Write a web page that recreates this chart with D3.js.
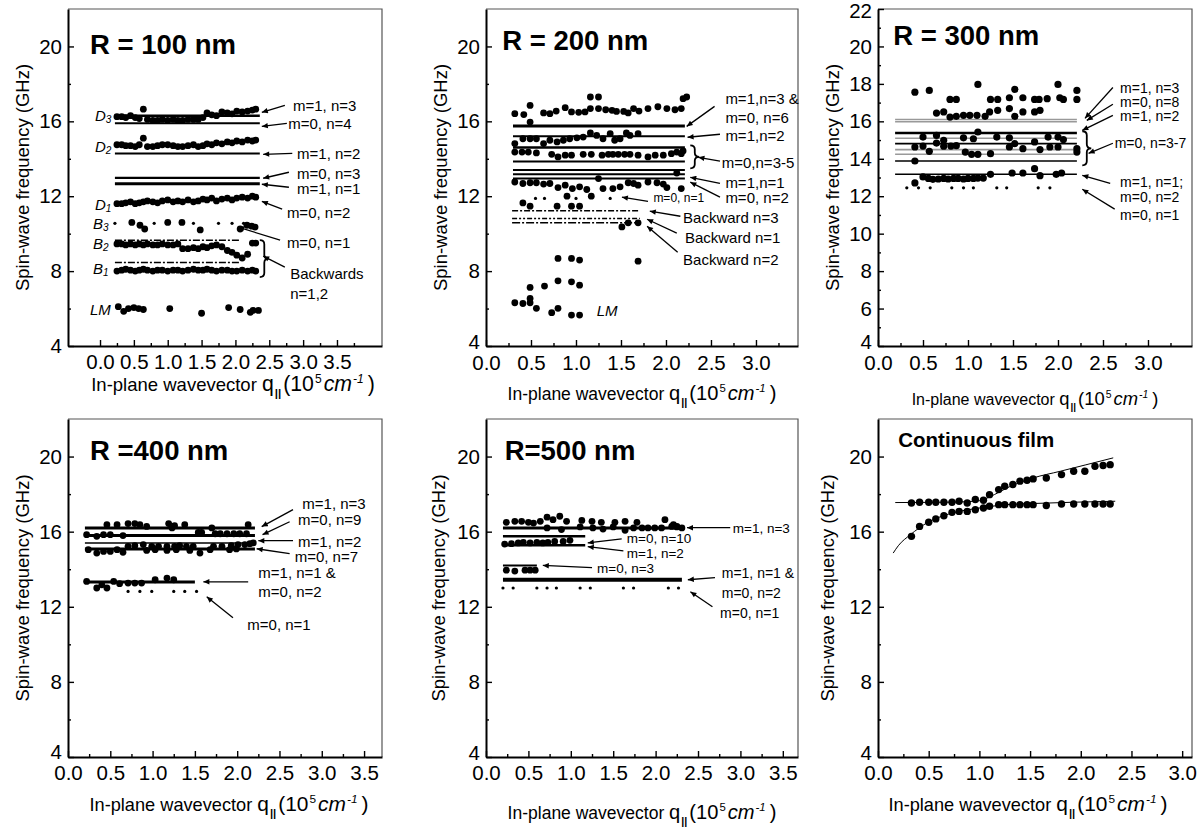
<!DOCTYPE html>
<html><head><meta charset="utf-8">
<script src="https://cdn.jsdelivr.net/npm/d3@7"></script>
<style>body{margin:0;background:#fff}</style>
</head><body><script>
// ---------------- DATA ----------------
// R = 100 nm
const r100X  = [0.25,0.32,0.38,0.45,0.52,0.58,0.64,0.70,0.78,0.85,0.92,1.00,1.08,1.15,1.22,1.30,1.38,1.45,1.52,1.58,1.65,1.72,1.80,1.88,1.95,2.02,2.10,2.18,2.25,2.30];
const r100D3 = [16.25,16.25,16.2,16.3,16.2,16.15,16.65,16.1,16.05,16.05,16.1,16.05,16.1,16.05,16.05,16.1,16.1,16.1,16.2,16.45,16.35,16.3,16.5,16.45,16.4,16.55,16.5,16.55,16.6,16.65];
const r100D2 = [14.75,14.75,14.7,14.7,14.65,14.75,15.1,14.65,14.65,14.7,14.75,14.75,14.7,14.65,14.65,14.7,14.75,14.65,14.7,14.8,14.75,14.85,14.8,14.9,14.85,14.95,14.9,15.0,14.95,15.0];
const r100D1 = [11.6,11.6,11.65,11.7,11.6,11.65,11.7,11.75,11.7,11.65,11.75,11.8,11.7,11.75,11.7,11.8,11.7,11.75,11.85,11.8,11.9,11.75,11.85,11.9,11.8,11.9,11.95,11.9,12.0,11.95];
const r100B2 = [9.45,9.45,9.4,9.45,9.4,9.45,9.4,9.45,9.4,9.4,9.45,9.4,9.4,9.45,9.2,9.2,9.25,9.2,9.3,9.25,9.35,9.4,9.3,9.1,9.0,8.85,8.7,8.9,9.5,9.5];
const r100B1 = [8.0,8.05,8.1,8.05,8.0,8.05,8.1,8.05,8.0,8.05,8.05,8.0,8.05,8.05,8.0,8.05,8.1,8.05,8.05,8.1,8.05,8.0,8.05,8.05,8.0,8.0,8.05,8.0,8.05,8.0];
const r100B3X = [0.47,0.59,0.66,1.0,1.21,1.48,2.07,2.17,2.24,2.29];
const r100B3Y = [10.6,10.45,10.25,10.6,10.6,10.2,10.25,10.45,10.4,10.35];
const r100B3SmallX = [0.22,0.8,1.38,1.75,1.95,2.12];
const r100B3SmallY = [10.55,10.55,10.55,10.55,10.55,10.55];
const r100LMX = [0.27,0.35,0.42,0.5,0.57,0.64,1.03,1.5,1.9,2.07,2.22,2.26,2.34];
const r100LMY = [6.1,5.85,6.0,6.05,6.0,5.95,6.0,5.75,6.05,5.95,5.8,5.9,5.9];
const r100Modes = [16.3,15.9,14.28,12.98,12.66];
const r100ModeWidth = [2.5,2,2,2.2,3];
const r100Backward = [9.65,8.46];
const r100ModeRange = [0.22,2.36];
const r100BackRange = [0.22,2.07];

// R = 200 nm
const r200AX = [0.32,0.42,0.49,0.49,0.64,0.71,0.78,0.88,0.95,1.03,1.1,1.16,1.16,1.25,1.25,1.33,1.4,1.45,1.53,1.58,1.64,1.7,1.8,1.91,2.01,2.1,2.17,2.19,2.23];
const r200AY = [16.41,16.36,16.85,15.96,16.45,16.41,16.55,16.73,16.5,16.48,16.5,17.3,16.68,17.3,16.68,16.62,16.59,16.53,16.53,16.45,16.68,16.55,16.68,16.78,16.68,16.62,16.68,17.21,17.3];
const r200BX = [0.32,0.41,0.49,0.56,0.64,0.71,0.79,0.86,0.93,1.01,1.08,1.16,1.23,1.3,1.38,1.43,1.49,1.56,1.6,1.69];
const r200BY = [14.81,15.07,15.07,15.07,14.81,14.99,14.9,14.99,15.07,15.12,15.16,15.38,15.25,15.07,15.34,14.99,15.07,15.38,15.25,15.34];
const r200CX = [0.32,0.4,0.47,0.56,0.73,0.8,0.88,0.95,1.08,1.17,1.29,1.36,1.41,1.47,1.54,1.6,1.69,1.8,1.88,1.97,2.06,2.12,2.17,2.19];
const r200CY = [14.36,14.36,14.36,14.31,14.24,14.1,14.19,14.19,14.24,14.24,14.19,14.24,14.24,14.24,14.24,14.24,14.19,14.1,14.19,14.19,14.27,14.36,14.27,14.42];
const r200DX = [0.32,0.41,0.49,0.56,0.64,0.71,0.8,0.88,0.96,1.04,1.12,1.25,1.3,1.41,1.49,1.58,1.64,1.69,1.8,1.9,1.97,2.01,2.12,2.17];
const r200DY = [12.76,12.68,12.72,12.72,12.65,12.68,12.46,12.59,12.41,12.5,12.36,12.94,12.41,12.41,12.5,12.72,12.68,12.59,12.76,12.72,12.65,12.46,13.24,12.41];
const r200EX = [0.41,0.49,0.79,0.9,0.95,1.04,1.17,1.51,1.58,1.69];
const r200EY = [11.64,11.47,11.47,12.0,11.47,11.47,12.0,10.36,10.58,10.58];
const r200SmallX = [0.55,0.65,1.0,1.38];
const r200SmallY = [11.88,11.88,11.88,11.88];
const r200LMX = [0.32,0.41,0.49,0.49,0.49,0.56,0.65,0.73,0.8,0.8,0.95,0.95,1.04,1.04,0.8,0.95,1.04,1.69];
const r200LMY = [6.31,6.27,7.13,6.54,6.31,6.01,7.2,5.78,7.48,6.01,7.43,5.65,7.25,5.65,8.68,8.68,8.59,8.53];
const r200Modes = [15.75,15.2,14.6,13.85,13.4,13.18,12.95];
const r200ModeWidth = [3,2,2.5,2,2,2,2];
const r200Backward = [11.22,10.81,10.58];
const r200ModeRange = [0.3,2.21];
const r200BackRange = [0.29,1.71];

// R = 300 nm
const r300AX = [0.41,0.57,0.8,0.87,1.11,1.25,1.33,1.46,1.52,1.61,1.74,1.79,1.88,2.0,2.02,2.06,2.21,2.21];
const r300AY = [17.56,17.65,17.17,17.17,17.97,17.17,17.17,17.26,17.71,17.26,17.17,17.17,17.21,17.97,17.26,17.17,17.65,17.17];
const r300BX = [0.65,0.73,0.8,0.87,0.95,1.02,1.1,1.19,1.24,1.33,1.46,1.52,1.61,1.74,1.8];
const r300BY = [16.44,16.5,16.23,16.27,16.32,16.32,16.32,16.27,16.5,16.59,16.68,16.27,16.5,16.5,16.59];
const r300CX = [0.41,0.41,0.5,0.5,0.57,0.65,0.65,0.73,0.73,0.81,0.87,0.95,0.97,1.04,1.06,1.11,1.11,1.25,1.32,1.46,1.46,1.52,1.61,1.74,1.8,1.89,1.91,2.0,2.0,2.06,2.21,2.21];
const r300CY = [14.63,13.88,14.68,15.16,14.4,15.25,14.84,14.99,14.67,14.68,14.7,15.12,14.36,14.24,15.07,14.24,15.43,14.27,15.16,15.12,14.63,14.81,14.54,14.9,14.49,15.16,14.63,14.63,15.16,15.03,14.54,14.36];
const r300DX = [0.41,0.5,0.56,0.61,0.67,0.73,0.78,0.84,0.89,0.95,1.0,1.06,1.11,1.17,1.25,1.49,1.61,1.74,1.8,1.98,2.04];
const r300DY = [12.71,13.03,12.95,12.9,12.92,12.95,12.92,12.95,12.95,12.92,12.95,12.95,12.97,12.97,13.17,13.24,13.24,13.47,13.1,13.17,13.24];
const r300SmallX = [0.32,0.45,0.58,0.82,0.95,1.06,1.32,1.43,1.78,1.91];
const r300SmallY = [12.45,12.45,12.45,12.45,12.45,12.45,12.45,12.45,12.45,12.45];
const r300BlackModes = [15.38,14.81,13.88,13.17];
const r300GreyModes = [16.1,15.98,15.1,14.49,14.24];
const r300ModeRange = [0.19,2.21];

// R = 400 nm
const r400AX = [0.46,0.58,0.71,0.79,0.85,0.93,1.19,1.23,1.26,1.38,1.7,2.13];
const r400AY = [16.37,16.37,16.43,16.43,16.37,16.28,16.43,16.2,16.32,16.37,16.2,16.37];
const r400BX = [0.22,0.34,0.42,0.5,0.65,1.54,1.58,1.74,1.8,1.88,1.96,2.03,2.11];
const r400BY = [15.84,15.75,15.84,15.84,15.79,15.96,15.96,15.89,15.89,15.89,15.89,15.89,15.89];
const r400CX = [0.71,0.79,0.89,0.99,1.07,1.17,1.26,1.32,1.4,1.48,1.72,1.82,1.93,2.01,2.09,2.15,2.19];
const r400CY = [15.22,15.25,15.31,15.22,15.22,15.22,15.22,15.25,15.22,15.22,15.22,15.22,15.25,15.31,15.31,15.36,15.4];
const r400DX = [0.24,0.34,0.42,0.5,0.58,0.65,0.93,1.03,1.17,1.28,1.44,1.56,1.68,1.91,1.99];
const r400DY = [15.04,14.86,14.95,14.95,15.04,14.9,15.0,15.04,15.0,15.04,15.0,14.86,15.04,15.04,15.08];
const r400EX = [0.22,0.34,0.4,0.46,0.54,0.61,0.71,0.79,0.87,1.03,1.17,1.25];
const r400EY = [13.35,13.0,13.17,13.0,13.35,13.23,13.26,13.26,13.26,13.44,13.53,13.44];
const r400SmallX = [0.71,0.85,0.99,1.25,1.38,1.52];
const r400SmallY = [12.82,12.82,12.82,12.82,12.82,12.82];
const r400Modes = [16.2,15.79,15.4,15.08];
const r400ModeWidth = [3,3,1.5,3];
const r400ModeRange = [0.2,2.21];
const r400LowMode = 13.32;
const r400LowRange = [0.2,1.5];

// R = 500 nm
const r500AX = [0.24,0.34,0.42,0.5,0.56,0.64,0.72,0.79,0.87,0.95,1.13,1.25,1.36,1.52,1.64,1.78,2.11,2.21,2.25];
const r500AY = [16.5,16.55,16.55,16.5,16.46,16.55,16.77,16.64,16.82,16.55,16.6,16.55,16.5,16.5,16.55,16.5,16.64,16.37,16.28];
const r500BX = [0.72,0.89,1.11,1.26,1.38,1.5,1.64,1.74,1.84,1.91,1.99,2.07,2.19,2.25,2.31];
const r500BY = [16.2,16.11,16.25,16.2,16.14,16.25,16.07,16.2,16.2,16.2,16.2,16.2,16.28,16.25,16.2];
const r500CX = [0.22,0.3,0.38,0.44,0.52,0.6,0.67,0.73,0.81,0.91,0.99];
const r500CY = [15.34,15.36,15.4,15.43,15.4,15.43,15.4,15.43,15.48,15.48,15.54];
const r500DX = [0.24,0.34,0.46,0.52,0.58];
const r500DY = [13.95,13.9,13.95,13.95,13.95];
const r500SmallX = [0.2,0.32,0.6,0.72,0.83,1.11,1.23,1.62,1.74,2.15,2.27];
const r500SmallY = [13.0,13.0,13.0,13.0,13.0,13.0,13.0,13.0,13.0,13.0,13.0];
const r500LongModes = [16.2,13.44];
const r500LongWidth = [3,4];
const r500LongRange = [0.2,2.31];
const r500MidModes = [15.75,15.27];
const r500MidRange = [0.2,1.17];
const r500ShortMode = 14.2;
const r500ShortRange = [0.2,0.6];

// Continuous film
const filmX = [0.33,0.41,0.5,0.57,0.65,0.73,0.8,0.88,0.96,1.04,1.1,1.19,1.25,1.33,1.4,1.47,1.53,1.66,1.81,1.93,2.04,2.14,2.22,2.29];
const filmUpper = [17.53,17.57,17.57,17.57,17.57,17.57,17.62,17.53,17.71,17.67,17.97,18.24,18.42,18.51,18.69,18.74,18.81,18.86,19.04,19.22,19.22,19.48,19.52,19.57];
const filmLower = [15.75,16.28,16.5,16.68,16.85,17.03,17.08,17.08,17.17,17.26,17.35,17.44,17.44,17.44,17.44,17.44,17.44,17.39,17.47,17.47,17.47,17.47,17.47,17.47];
const fitUpperX = [0.17,0.5,0.8,1.0,1.1,1.2,1.3,1.4,1.53,1.8,2.05,2.32];
const fitUpperY = [17.55,17.56,17.58,17.65,17.85,18.12,18.4,18.62,18.86,19.22,19.56,19.93];
const fitLowerX = [0.15,0.2,0.32,0.48,0.71,1.0,1.27,1.53,2.34];
const fitLowerY = [14.86,15.25,15.84,16.46,16.96,17.26,17.44,17.5,17.62];

// tick labels
const yTicks4 = [4,8,12,16,20];
const yMinor4 = [6,10,14,18];
const yTicks2 = [4,6,8,10,12,14,16,18,20,22];
const yMinor2 = [5,7,9,11,13,15,17,19,21];
const xTicks35 = [0,0.5,1.0,1.5,2.0,2.5,3.0,3.5];
const xTicks30 = [0,0.5,1.0,1.5,2.0,2.5,3.0];
const yTitle = "Spin-wave frequency (GHz)";
const panelTitles = ["R = 100 nm","R = 200 nm","R = 300 nm","R =400 nm","R=500 nm","Continuous film"];

// annotations: [text, tx, ty, arrowFromX, arrowFromY, arrowToX, arrowToY] in data units
const ann100 = [
 ["m=1, n=3",2.85,16.85,2.73,16.85,2.39,16.48],
 ["m=0, n=4",2.78,15.89,2.76,15.89,2.39,15.73],
 ["m=1, n=2",2.91,14.29,2.84,14.29,2.41,14.24],
 ["m=0, n=3",2.91,13.23,2.79,13.28,2.41,12.96],
 ["m=1, n=1",2.91,12.43,2.79,12.48,2.39,12.64],
 ["m=0, n=2",2.76,11.15,2.69,11.31,2.39,11.73],
 ["m=0, n=1",2.76,9.55,2.66,9.65,2.04,10.35],
 ["Backwards",2.81,7.89,2.73,8.21,2.41,8.8],
 ["n=1,2",2.81,6.83]
];
const ann200 = [
 ["m=1,n=3 &",2.66,17.23],
 ["m=0, n=6",2.66,16.21,2.54,16.8,2.23,15.73],
 ["m=1,n=2",2.66,15.25,2.6,15.31,2.24,15.15],
 ["m=0,n=3-5",2.62,13.81,2.6,13.87,2.36,14.08],
 ["m=1,n=1",2.66,12.75,2.6,12.69,2.27,13.01],
 ["m=0, n=2",2.66,11.95,2.6,11.95,2.27,12.75],
 ["Backward n=3",2.19,10.88,2.16,10.93,1.82,11.2],
 ["Backward n=1",2.21,9.81,2.12,10.03,1.79,10.77],
 ["Backward n=2",2.19,8.64,2.13,9.01,1.79,10.4]
];
const ann200small = [["m=0, n=1",1.86,11.89,1.8,11.73,1.51,11.95]];
const ann300 = [
 ["m=1, n=3",2.69,17.78,2.61,17.81,2.3,16.16],
 ["m=0, n=8",2.69,17.02,2.61,16.91,2.32,16.05],
 ["m=1, n=2",2.69,16.28,2.61,16.32,2.27,15.52],
 ["m=0, n=3-7",2.63,14.83,2.61,14.83,2.34,14.29],
 ["m=1, n=1;",2.69,12.75,2.58,12.69,2.27,13.12],
 ["m=0, n=2",2.69,11.95,2.63,11.31,2.27,12.37],
 ["m=0, n=1",2.69,10.99]
];
const ann400 = [
 ["m=1, n=3",2.77,17.49,2.66,17.17,2.29,16.27],
 ["m=0, n=9",2.72,16.64,2.62,16.53,2.3,15.84],
 ["m=1, n=2",2.72,15.47,2.66,15.52,2.25,15.52],
 ["m=0, n=7",2.68,14.67,2.62,14.83,2.23,15.09],
 ["m=1, n=1 &",2.25,13.81],
 ["m=0, n=2",2.25,12.8,2.13,13.33,1.6,13.33],
 ["m=0, n=1",2.12,11.04,1.95,11.41,1.64,12.53]
];
const ann500 = [
 ["m=1, n=3",2.91,16.16,2.88,16.21,2.37,16.21],
 ["m=0, n=10",1.66,15.64,1.6,15.62,1.2,15.4],
 ["m=1, n=2",1.66,14.84,1.62,14.98,1.2,15.2],
 ["m=0, n=3",1.31,14.05,1.25,14.08,0.67,14.2],
 ["m=1, n=1 &",2.78,13.81,2.7,13.55,2.38,13.44],
 ["m=0, n=2",2.78,12.75],
 ["m=0, n=1",2.76,11.68,2.67,12.0,2.41,12.8]
];

// ---------------- DRAWING ----------------
const FONT = "'Liberation Sans', Arial, Helvetica, sans-serif";
const svg = d3.select("body").append("svg").attr("width",1202).attr("height",831)
  .style("display","block").attr("font-family",FONT);
const defs = svg.append("defs");
defs.append("marker").attr("id","ah").attr("viewBox","0 0 10 10").attr("refX",10).attr("refY",5)
  .attr("markerWidth",7).attr("markerHeight",6).attr("markerUnits","userSpaceOnUse").attr("orient","auto")
  .append("path").attr("d","M0,0.5 L10,5 L0,9.5 z").attr("fill","#000");

function styleAxis(sel, fs){
  sel.attr("font-family",FONT).attr("font-size",fs);
  sel.select(".domain").attr("stroke","#000").attr("stroke-width",2);
  sel.selectAll(".tick line").attr("stroke","#000").attr("stroke-width",1.4);
  sel.selectAll(".tick text").attr("fill","#000");
}

function panel(o){
  const x = d3.scaleLinear().domain(o.xd).range([o.l,o.r]);
  const y = d3.scaleLinear().domain([4,22]).range([o.b,o.t]);
  const g = svg.append("g");
  g.append("path").attr("d",`M${o.l},${o.t}H${o.r}V${o.b}`).attr("fill","none").attr("stroke","#555").attr("stroke-width",1.2);
  const xm = d3.range(0.25, o.xd[1], 0.5).filter(v=>v>o.xd[0]);
  g.append("g").attr("transform",`translate(0,${o.b})`)
    .call(d3.axisBottom(x).tickValues(xm).tickSize(-3).tickFormat(""))
    .call(s=>{s.select(".domain").remove(); s.selectAll(".tick line").attr("stroke","#000").attr("stroke-width",1.4);});
  g.append("g").attr("transform",`translate(0,${o.b})`)
    .call(d3.axisBottom(x).tickValues(o.xt).tickSize(-6).tickSizeOuter(0).tickPadding(o.xpad||8).tickFormat(d3.format(".1f")))
    .call(s=>styleAxis(s,20.5));
  g.append("g").attr("transform",`translate(${o.l},0)`)
    .call(d3.axisLeft(y).tickValues(o.ym).tickSize(-3).tickFormat(""))
    .call(s=>{s.select(".domain").remove(); s.selectAll(".tick line").attr("stroke","#000").attr("stroke-width",1.4);});
  g.append("g").attr("transform",`translate(${o.l},0)`)
    .call(d3.axisLeft(y).tickValues(o.yt).tickSize(-6).tickSizeOuter(0).tickPadding(6).tickFormat(d3.format("d")))
    .call(s=>styleAxis(s,20.5))
    .call(s=>{
      s.selectAll(".tick text").filter(d=>d===4).attr("dy",o.lowDy||"0.32em");
      s.selectAll(".tick text").filter(d=>d===22).attr("dy","0.42em");
    });
  // y title
  g.append("text").attr("transform",`translate(${o.ytx},${(o.t+o.b)/2}) rotate(-90)`)
    .attr("text-anchor","middle").attr("dominant-baseline","central").attr("font-size",18.5).text(yTitle);
  // x title
  const fs = o.xfs, k = fs*1.15;
  const t = g.append("text").attr("x",o.xtx).attr("y",o.xty).attr("text-anchor","middle").attr("font-size",fs);
  t.append("tspan").text("In-plane wavevector ");
  t.append("tspan").attr("font-size",k).text("q");
  t.append("tspan").attr("font-size",fs*0.62).attr("dy",fs*0.32).attr("dx",1).attr("font-weight","bold").text("||");
  t.append("tspan").attr("font-size",k).attr("dy",-fs*0.32).attr("dx",2).text("(10");
  t.append("tspan").attr("font-size",fs*0.65).attr("dy",-fs*0.45).attr("dx",1).text("5");
  t.append("tspan").attr("font-size",k).attr("dy",fs*0.45).attr("dx",2).attr("font-style","italic").text("cm");
  t.append("tspan").attr("font-size",fs*0.65).attr("dy",-fs*0.45).attr("dx",1).attr("font-style","italic").text("-1");
  t.append("tspan").attr("font-size",k).attr("dy",fs*0.45).attr("dx",4).text(")");
  return {g,x,y};
}

function dots(p, xs, ys, r){
  p.g.append("g").selectAll("circle").data(xs.map((v,i)=>[v,ys[i]])).join("circle")
    .attr("cx",d=>p.x(d[0])).attr("cy",d=>p.y(d[1])).attr("r",r).attr("fill","#000");
}
function hline(p, yv, range, w, color, dash){
  p.g.append("line").attr("x1",p.x(range[0])).attr("x2",p.x(range[1]))
    .attr("y1",p.y(yv)).attr("y2",p.y(yv)).attr("stroke",color||"#000").attr("stroke-width",w)
    .attr("stroke-dasharray",dash||null);
}
function annotate(p, list, fs){
  list.forEach(a=>{
    p.g.append("text").attr("x",p.x(a[1])).attr("y",p.y(a[2])).attr("dominant-baseline","central")
      .attr("font-size",fs).text(a[0]);
    if(a.length>3){
      p.g.append("line").attr("x1",p.x(a[3])).attr("y1",p.y(a[4])).attr("x2",p.x(a[5])).attr("y2",p.y(a[6]))
        .attr("stroke","#000").attr("stroke-width",1.3).attr("marker-end","url(#ah)");
    }
  });
}
function brace(p, xv, y1v, y2v, w){
  const x0 = p.x(xv), a = p.y(y1v), b = p.y(y2v), m = (a+b)/2, r = 4, h = w/2;
  p.g.append("path").attr("d",
    `M${x0},${a} Q${x0+h},${a} ${x0+h},${a+r} L${x0+h},${m-r} Q${x0+h},${m} ${x0+w},${m} Q${x0+h},${m} ${x0+h},${m+r} L${x0+h},${b-r} Q${x0+h},${b} ${x0},${b}`)
    .attr("fill","none").attr("stroke","#000").attr("stroke-width",1.8);
}
function title(p, txt, xv, yv, fs){
  p.g.append("text").attr("x",p.x(xv)).attr("y",p.y(yv)).attr("font-size",fs).attr("font-weight","bold").text(txt);
}
function sublabel(p, main, sub, xv, yv){
  const t = p.g.append("text").attr("x",p.x(xv)).attr("y",p.y(yv)).attr("dominant-baseline","central")
    .attr("font-size",15).attr("font-style","italic");
  t.append("tspan").text(main);
  if(sub) t.append("tspan").attr("font-size",10).attr("dy",4).text(sub);
}

// ---- Panel R=100 ----
const p1 = panel({l:68,r:382,t:9,b:346,xd:[-0.473,4.165],xt:xTicks35,yt:yTicks4,ym:yMinor4,ytx:22,xtx:233,xty:391,xfs:18.5});
r100Modes.forEach((v,i)=>hline(p1,v,r100ModeRange,r100ModeWidth[i]));
hline(p1,r100Backward[0],r100BackRange,1.6,"#000","7,2,2,2");
hline(p1,r100Backward[1],r100BackRange,1.6,"#000","7,2,2,2");
[r100D3,r100D2,r100D1,r100B2,r100B1].forEach(ys=>dots(p1,r100X,ys,3.4));
dots(p1,r100B3X,r100B3Y,3.4);
dots(p1,r100B3SmallX,r100B3SmallY,1.6);
dots(p1,r100LMX,r100LMY,3.4);
[["D","3",-0.074,16.32],["D","2",-0.074,14.67],["D","1",-0.074,11.57],["B","3",-0.103,10.56],["B","2",-0.103,9.49],["B","1",-0.103,8.16],["LM","",-0.148,5.97]]
  .forEach(d=>sublabel(p1,d[0],d[1],d[2],d[3]));
annotate(p1,ann100,15);
brace(p1,2.36,9.65,7.68,9);
title(p1,panelTitles[0],-0.148,19.6,27.5);

// ---- Panel R=200 ----
const p2 = panel({l:486,r:798,t:9,b:346,xd:[0,3.467],xt:xTicks30,yt:yTicks4,ym:yMinor4,ytx:440,xty:400,xtx:642,xfs:17.5,lowDy:"0.1em",xpad:9});
r200Modes.forEach((v,i)=>hline(p2,v,r200ModeRange,r200ModeWidth[i]));
hline(p2,r200Backward[0],r200BackRange,1.5,"#000","6,2,2,2");
hline(p2,r200Backward[1],r200BackRange,1.5,"#000","5,2,2,2,2,2");
hline(p2,r200Backward[2],r200BackRange,1.5,"#000","8,2,2,2");
dots(p2,r200AX,r200AY,3.4); dots(p2,r200BX,r200BY,3.4); dots(p2,r200CX,r200CY,3.4);
dots(p2,r200DX,r200DY,3.4); dots(p2,r200EX,r200EY,3.4); dots(p2,r200SmallX,r200SmallY,1.6);
dots(p2,r200LMX,r200LMY,3.4);
sublabel(p2,"LM","",1.23,5.92);
annotate(p2,ann200,15);
annotate(p2,ann200small,12);
brace(p2,2.27,14.72,13.49,9);
title(p2,panelTitles[1],0.18,19.8,27.5);

// ---- Panel R=300 ----
const p3 = panel({l:878,r:1192,t:9,b:346,xd:[0,3.489],xt:xTicks30,yt:yTicks2,ym:yMinor2,ytx:832,xty:405,xtx:1035,xfs:16,lowDy:"0.1em",xpad:9});
r300GreyModes.forEach(v=>hline(p3,v,r300ModeRange,1.6,"#999"));
r300BlackModes.forEach((v,i)=>hline(p3,v,r300ModeRange,i===0?2.6:1.6,"#000"));
dots(p3,r300AX,r300AY,3.6); dots(p3,r300BX,r300BY,3.6); dots(p3,r300CX,r300CY,3.6);
dots(p3,r300DX,r300DY,3.6); dots(p3,r300SmallX,r300SmallY,1.6);
annotate(p3,ann300,14);
brace(p3,2.27,15.47,13.65,9);
title(p3,panelTitles[2],0.17,20.1,27.5);

// ---- Panel R=400 ----
const p4 = panel({l:68,r:382,t:419,b:757,xd:[0,3.712],xt:xTicks35,yt:yTicks4,ym:yMinor4,ytx:22,xtx:229,xty:811,xfs:18.2,lowDy:"0.08em"});
r400Modes.forEach((v,i)=>hline(p4,v,r400ModeRange,r400ModeWidth[i]));
hline(p4,r400LowMode,r400LowRange,3);
dots(p4,r400AX,r400AY,3.4); dots(p4,r400BX,r400BY,3.4); dots(p4,r400CX,r400CY,3.4);
dots(p4,r400DX,r400DY,3.4); dots(p4,r400EX,r400EY,3.4); dots(p4,r400SmallX,r400SmallY,1.6);
annotate(p4,ann400,15);
title(p4,panelTitles[3],0.26,19.84,27.5);

// ---- Panel R=500 ----
const p5 = panel({l:486,r:798,t:419,b:757,xd:[0,3.679],xt:xTicks35,yt:yTicks4,ym:yMinor4,ytx:438,xtx:642,xty:819,xfs:17.5,lowDy:"0.1em"});
r500LongModes.forEach((v,i)=>hline(p5,v,r500LongRange,r500LongWidth[i]));
r500MidModes.forEach(v=>hline(p5,v,r500MidRange,2.5));
hline(p5,r500ShortMode,r500ShortRange,2);
dots(p5,r500AX,r500AY,3.4); dots(p5,r500BX,r500BY,3.4); dots(p5,r500CX,r500CY,3.4);
dots(p5,r500DX,r500DY,3.4); dots(p5,r500SmallX,r500SmallY,1.6);
annotate(p5,ann500.slice(0,4),13.5);
annotate(p5,ann500.slice(4),14);
title(p5,panelTitles[4],0.22,19.84,27.5);

// ---- Continuous film ----
const p6 = panel({l:878,r:1192,t:419,b:757,xd:[0,3.097],xt:xTicks30,yt:yTicks4,ym:yMinor4,ytx:827,xtx:1028,xty:811,xfs:18.2,lowDy:"0.1em"});
const fitLine = d3.line().x(d=>p6.x(d[0])).y(d=>p6.y(d[1])).curve(d3.curveMonotoneX);
p6.g.append("path").attr("d",fitLine(fitUpperX.map((v,i)=>[v,fitUpperY[i]]))).attr("fill","none").attr("stroke","#000").attr("stroke-width",1);
p6.g.append("path").attr("d",fitLine(fitLowerX.map((v,i)=>[v,fitLowerY[i]]))).attr("fill","none").attr("stroke","#000").attr("stroke-width",1);
dots(p6,filmX,filmUpper,3.7);
dots(p6,filmX,filmLower,3.7);
title(p6,panelTitles[5],0.2,20.53,20.5);
</script></body></html>
